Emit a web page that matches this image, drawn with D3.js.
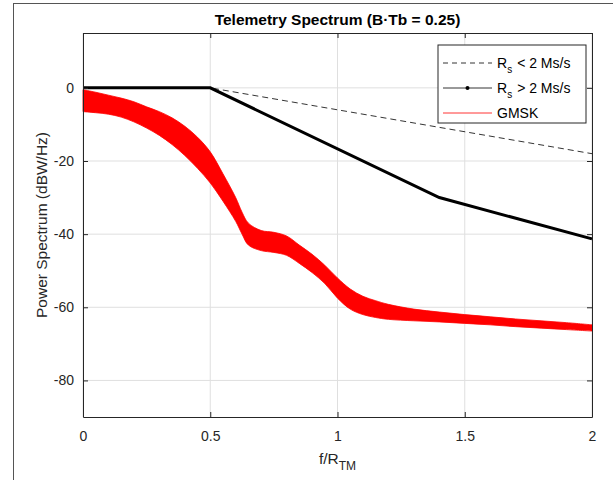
<!DOCTYPE html>
<html>
<head>
<meta charset="utf-8">
<script src="https://cdn.jsdelivr.net/npm/d3@7"></script>
<style>
  body { margin: 0; background: #fff; }
  text { font-family: "Liberation Sans", Arial, sans-serif; }
</style>
</head>
<body>
<svg id="chart" width="613" height="480"></svg>
<script>
// Mask for Rs < 2 Ms/s (dashed)
const maskLowF = [0, 0.5, 2];
const maskLowDb = [0, 0, -18];

// Mask for Rs > 2 Ms/s (thick solid)
const maskHighF = [0, 0.5, 1.4, 2];
const maskHighDb = [0, 0, -30, -41.3];

// GMSK spectrum, read as an upper / lower envelope of the noisy trace
const gmskF = [0, 0.05, 0.1, 0.15, 0.2, 0.25, 0.3, 0.35, 0.4, 0.45, 0.5, 0.55, 0.6, 0.625, 0.65,
  0.7, 0.75, 0.8, 0.85, 0.9, 0.95, 1.0, 1.05, 1.1, 1.15, 1.2, 1.3, 1.4, 1.5, 1.6, 1.7, 1.8, 1.9, 2.0];
const gmskUpper = [-0.5, -1.2, -2.0, -2.8, -3.8, -5.2, -6.5, -8.2, -10.5, -13.5, -17.5, -23.5, -30, -34, -37,
  -39, -39.5, -40.5, -43, -45.5, -48.5, -52, -55, -57, -58.2, -59.2, -60.5, -61.3, -62, -62.6, -63.2, -63.7, -64.2, -64.8];
const gmskLower = [-6.5, -6.8, -7.2, -8, -9.3, -11, -13, -15.5, -18.5, -22, -26, -31, -36.5, -40, -43,
  -44.5, -45, -45.8, -48, -50.5, -53.5, -57.5, -60.5, -62, -62.8, -63.3, -63.7, -64, -64.4, -64.8, -65.3, -65.7, -66.1, -66.5];

const xTicks = [0, 0.5, 1, 1.5, 2];
const yTicks = [-80, -60, -40, -20, 0];

const svg = d3.select("#chart");
const margin = { top: 33, right: 21, bottom: 63, left: 83 };
const width = +svg.attr("width");
const height = +svg.attr("height");
const innerWidth = width - margin.left - margin.right;
const innerHeight = height - margin.top - margin.bottom;

// figure frame edges
svg.append("line").attr("x1", 13.5).attr("x2", 13.5).attr("y1", 3).attr("y2", height)
  .attr("stroke", "#555").attr("stroke-width", 1);
svg.append("line").attr("x1", 13).attr("x2", width).attr("y1", 3.5).attr("y2", 3.5)
  .attr("stroke", "#555").attr("stroke-width", 1);

const g = svg.append("g").attr("transform", `translate(${margin.left}, ${margin.top})`);

const x = d3.scaleLinear().domain([0, 2]).range([0, innerWidth]);
const y = d3.scaleLinear().domain([-90, 15]).range([innerHeight, 0]);

const axisColor = "#262626";

// grid
g.selectAll(".gx").data(xTicks).enter().append("line")
  .attr("x1", d => x(d)).attr("x2", d => x(d)).attr("y1", 0).attr("y2", innerHeight)
  .attr("stroke", "#dfdfdf").attr("stroke-width", 1);
g.selectAll(".gy").data(yTicks).enter().append("line")
  .attr("x1", 0).attr("x2", innerWidth).attr("y1", d => y(d)).attr("y2", d => y(d))
  .attr("stroke", "#dfdfdf").attr("stroke-width", 1);

// GMSK band
const gmsk = gmskF.map((f, i) => ({ f, hi: gmskUpper[i], lo: gmskLower[i] }));
g.append("path")
  .datum(gmsk)
  .attr("fill", "#ff0000")
  .attr("stroke", "#ff0000")
  .attr("stroke-width", 0.8)
  .attr("d", d3.area().x(d => x(d.f)).y0(d => y(d.lo)).y1(d => y(d.hi)).curve(d3.curveCatmullRom));

// masks
const line = d3.line().x(d => x(d[0])).y(d => y(d[1]));
g.append("path")
  .datum(maskLowF.map((f, i) => [f, maskLowDb[i]]))
  .attr("fill", "none").attr("stroke", "#000").attr("stroke-width", 0.8)
  .attr("stroke-dasharray", "6,4")
  .attr("d", line);
g.append("path")
  .datum(maskHighF.map((f, i) => [f, maskHighDb[i]]))
  .attr("fill", "none").attr("stroke", "#000").attr("stroke-width", 3)
  .attr("d", line);

// axes
g.append("g").attr("transform", `translate(0, ${innerHeight})`)
  .call(d3.axisBottom(x).tickValues(xTicks).tickSizeInner(-5).tickSizeOuter(0).tickPadding(14)
    .tickFormat(d => String(d)));
g.append("g")
  .call(d3.axisLeft(y).tickValues(yTicks).tickSizeInner(-5).tickSizeOuter(0).tickPadding(9)
    .tickFormat(d => String(d)));
const topAxis = g.append("g")
  .call(d3.axisTop(x).tickValues(xTicks).tickSizeInner(-5).tickSizeOuter(0));
const rightAxis = g.append("g").attr("transform", `translate(${innerWidth}, 0)`)
  .call(d3.axisRight(y).tickValues(yTicks).tickSizeInner(-5).tickSizeOuter(0));
topAxis.selectAll("text").remove();
rightAxis.selectAll("text").remove();
g.selectAll(".domain, .tick line").attr("stroke", axisColor);
g.selectAll(".tick text").attr("fill", axisColor).attr("font-size", 14)
  .attr("font-family", "'Liberation Sans', Arial, sans-serif");

// title
svg.append("text")
  .attr("x", margin.left + innerWidth / 2)
  .attr("y", 25)
  .attr("text-anchor", "middle")
  .attr("font-size", "15.5px")
  .attr("font-weight", "bold")
  .attr("fill", "#000")
  .text("Telemetry Spectrum (B\u00b7Tb = 0.25)");

// axis labels
const xl = svg.append("text")
  .attr("x", margin.left + innerWidth / 2)
  .attr("y", 464)
  .attr("text-anchor", "middle")
  .attr("font-size", "15.5px")
  .attr("fill", axisColor);
xl.append("tspan").text("f/R");
xl.append("tspan").attr("dy", 6).attr("font-size", "12px").text("TM");

svg.append("text")
  .attr("transform", `translate(47, ${margin.top + innerHeight / 2}) rotate(-90)`)
  .attr("text-anchor", "middle")
  .attr("font-size", "15.5px")
  .attr("fill", axisColor)
  .text("Power Spectrum (dBW/Hz)");

// legend
const legendItems = [
  { label: "< 2 Ms/s", sub: true, dash: "5,4", color: "#000", dot: false },
  { label: "> 2 Ms/s", sub: true, dash: null, color: "#000", dot: true },
  { label: "GMSK", sub: false, dash: null, color: "#ff0000", dot: false }
];
const legend = svg.append("g").attr("transform", "translate(438, 45)");
legend.append("rect")
  .attr("width", 148).attr("height", 78)
  .attr("fill", "#fff").attr("stroke", axisColor).attr("stroke-width", 1);
const rows = legend.selectAll(".row").data(legendItems).enter().append("g")
  .attr("transform", (d, i) => `translate(0, ${18 + i * 25})`);
rows.append("line")
  .attr("x1", 5).attr("x2", 54).attr("y1", 0).attr("y2", 0)
  .attr("stroke", d => d.color).attr("stroke-width", 0.8)
  .attr("stroke-dasharray", d => d.dash);
rows.filter(d => d.dot).append("circle")
  .attr("cx", 29.5).attr("cy", 0).attr("r", 2).attr("fill", "#000");
const lt = rows.append("text").attr("x", 59).attr("y", 5)
  .attr("font-size", "14px").attr("fill", "#000");
lt.each(function(d) {
  const t = d3.select(this);
  if (d.sub) {
    t.append("tspan").text("R");
    t.append("tspan").attr("dy", 5).attr("font-size", "10px").text("s");
    t.append("tspan").attr("dy", -5).attr("dx", 5).text(d.label);
  } else {
    t.text(d.label);
  }
});
</script>
</body>
</html>
